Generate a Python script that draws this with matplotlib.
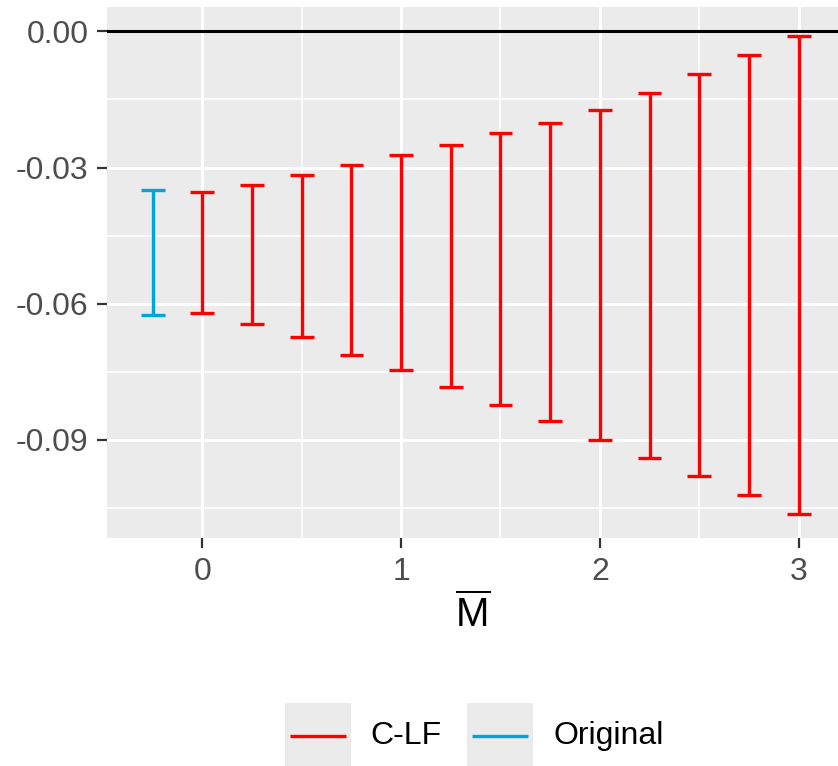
import matplotlib
matplotlib.use("Agg")
import matplotlib.pyplot as plt
from matplotlib.patches import Rectangle
from matplotlib.lines import Line2D
import numpy as np

plt.rcParams['font.family'] = ['Liberation Sans', 'DejaVu Sans']
plt.rcParams['mathtext.fontset'] = 'custom'
plt.rcParams['mathtext.rm'] = 'Liberation Sans'
plt.rcParams['mathtext.it'] = 'Liberation Sans:italic'

# ---- data ----
series_names = ["C-LF", "Original"]
series_colors = ["#FF0000", "#00A3DA"]

clf_x = [0.0, 0.25, 0.5, 0.75, 1.0, 1.25, 1.5, 1.75, 2.0, 2.25, 2.5, 2.75, 3.0]
clf_upper = [-0.0353, -0.0339, -0.0317, -0.0295, -0.0273, -0.0251, -0.0225,
             -0.0203, -0.0174, -0.0135, -0.0094, -0.0053, -0.0011]
clf_lower = [-0.0621, -0.0644, -0.0674, -0.0712, -0.0746, -0.0783, -0.0822,
             -0.0859, -0.0901, -0.0940, -0.0979, -0.1021, -0.1064]

orig_x = [-0.25]
orig_upper = [-0.0350]
orig_lower = [-0.0624]

x_ticks = [0, 1, 2, 3]
x_ticklabels = ["0", "1", "2", "3"]
y_ticks = [0.0, -0.03, -0.06, -0.09]
y_ticklabels = ["0.00", "-0.03", "-0.06", "-0.09"]
x_minor = [0.5, 1.5, 2.5]
y_minor = [-0.015, -0.045, -0.075, -0.105]
ref_line = 0.0

# ---- layout ----
W, H = 838, 766
fig = plt.figure(figsize=(W / 100, H / 100), dpi=100)

def fx(px):
    return px / W

def fy(py):
    return 1 - py / H

ax_left, ax_right, ax_top, ax_bottom = 107, 844, 7, 538
ax = fig.add_axes([fx(ax_left), fy(ax_bottom), fx(ax_right - ax_left), (ax_bottom - ax_top) / H])
ax.set_facecolor("#EBEBEB")
for s in ax.spines.values():
    s.set_visible(False)

ax.set_xlim(-0.48, 3.2285)
ax.set_ylim(-0.1116, 0.00535)

ax.set_xticks(x_ticks)
ax.set_xticklabels(x_ticklabels)
ax.set_yticks(y_ticks)
ax.set_yticklabels(y_ticklabels)
ax.set_xticks(x_minor, minor=True)
ax.set_yticks(y_minor, minor=True)
ax.tick_params(axis='both', which='major', length=7.5, width=1.6, color="#333333",
               labelsize=23, labelcolor="#4D4D4D", pad=6)
ax.tick_params(axis='both', which='minor', length=0)
ax.grid(which='major', color='white', linewidth=2.2)
ax.grid(which='minor', color='white', linewidth=1.1)
ax.set_axisbelow(True)

# reference line
ax.axhline(ref_line, color='black', linewidth=2.2, zorder=2)

cap_w = 0.12
lw = 2.4
for xs, lo, hi, col in [(clf_x, clf_lower, clf_upper, series_colors[0]),
                        (orig_x, orig_lower, orig_upper, series_colors[1])]:
    xs = np.asarray(xs)
    ax.vlines(xs, lo, hi, color=col, linewidth=lw, capstyle='butt', zorder=3)
    ax.hlines(lo, xs - cap_w / 2, xs + cap_w / 2, color=col, linewidth=lw, capstyle='butt', zorder=3)
    ax.hlines(hi, xs - cap_w / 2, xs + cap_w / 2, color=col, linewidth=lw, capstyle='butt', zorder=3)

ax.set_xlabel(r'$\overline{\mathrm{M}}$', fontsize=29, color='black', labelpad=8)
ax.xaxis.set_label_coords(fx((107 + 838) / 2 - ax_left) / fx(ax_right - ax_left), -0.0)
ax.xaxis.label.set_verticalalignment('top')
ax.xaxis.set_label_coords(((107 + 838) / 2 - ax_left) / (ax_right - ax_left),
                          -(594 - ax_bottom) / (ax_bottom - ax_top))

# ---- legend (manual, ggplot style) ----
key_boxes = [285, 467]
text_x = [370, 553]
box_top, box_bot = 703, 766
cy = 736
for name, col, bx, tx in zip(series_names, series_colors, key_boxes, text_x):
    fig.add_artist(Rectangle((fx(bx), fy(box_bot)), fx(66), (box_bot - box_top) / H,
                             transform=fig.transFigure, facecolor="#EBEBEB", edgecolor='none'))
    fig.add_artist(Line2D([fx(bx + 5), fx(bx + 61)], [fy(cy), fy(cy)], transform=fig.transFigure,
                          color=col, linewidth=2.4, solid_capstyle='butt'))
    fig.text(fx(tx), fy(cy), name, fontsize=23, color='black', ha='left', va='center')

fig.savefig("out.png", dpi=100)
